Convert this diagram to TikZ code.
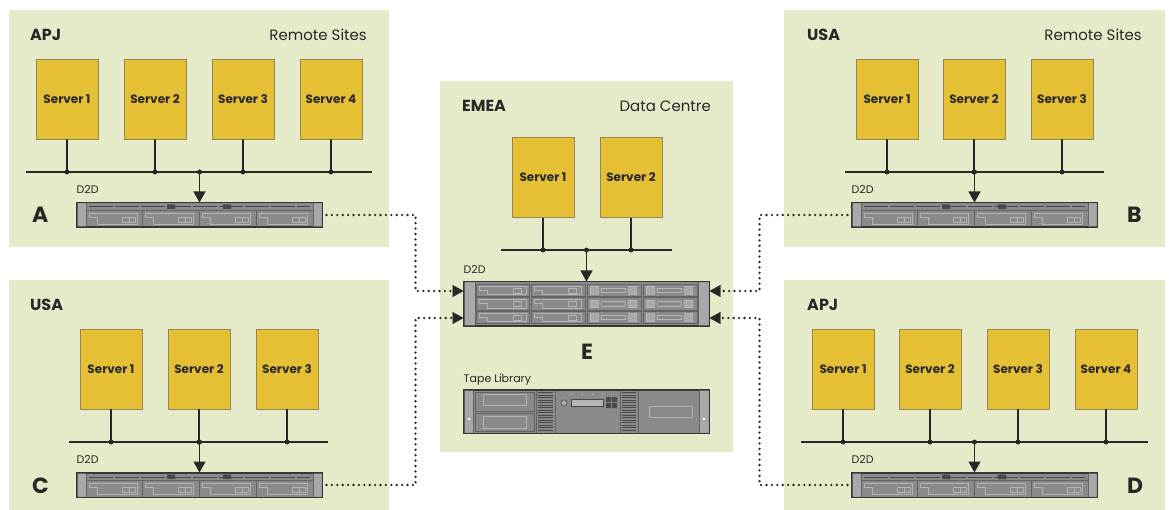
\documentclass[tikz,border=0pt]{standalone}
\usepackage{fontspec}
\setmainfont{Poppins}
\usetikzlibrary{arrows.meta,positioning}

\definecolor{sitegreen}{RGB}{229,235,200}
\definecolor{servgold}{RGB}{230,192,52}
\definecolor{servedge}{RGB}{150,135,80}
\definecolor{ink}{RGB}{40,40,40}
\definecolor{rackedge}{RGB}{55,55,55}
\definecolor{rackgray}{RGB}{138,138,138}
\definecolor{rackear}{RGB}{168,168,168}
\definecolor{rackline}{RGB}{100,100,100}
\definecolor{racklite}{RGB}{180,180,180}
\definecolor{rackdark}{RGB}{72,72,72}

\tikzset{
  site/.style={fill=sitegreen},
  server/.style={draw=servedge, line width=0.8pt, fill=servgold, minimum width=62pt,
    minimum height=80pt, inner sep=0pt, text=ink, font=\bfseries\fontsize{12}{14}\selectfont},
  sitename/.style={anchor=base west, inner sep=0pt, text=ink, font=\bfseries\fontsize{16}{18}\selectfont},
  sitekind/.style={anchor=base east, inner sep=0pt, text=ink, font=\fontsize{15}{18}\selectfont},
  letter/.style={anchor=base west, inner sep=0pt, text=ink, font=\bfseries\fontsize{22}{24}\selectfont},
  devlabel/.style={anchor=base west, inner sep=0pt, text=ink, font=\fontsize{11}{13}\selectfont},
  bus/.style={draw=ink, line width=1.3pt},
  tap/.style={circle, fill=ink, inner sep=0pt, minimum size=5pt},
  feed/.style={bus, -{Triangle[width=12pt,length=11pt]}},
  link/.style={draw=ink, line width=2.6pt, line cap=round, dash pattern=on 0pt off 5.4pt,
    -{Triangle[width=12pt,length=11pt,line width=0.1pt]}},
  rackbox/.style={draw=rackedge, line width=1pt, fill=rackgray, minimum width=245pt, inner sep=0pt},
  % 1U D2D box: ears, top strip, four drive bays
  rackone/.pic={
    \node[rackbox, minimum height=24pt] (-box) at (0,0) {};
    \begin{scope}[shift={(-122.5,-12)}, line width=0.6pt]
      \fill[rackear] (0.5,0.5) rectangle (9,23.5) (236,0.5) rectangle (244.5,23.5);
      \draw[rackline] (9,0.5) -- (9,23.5) (236,0.5) -- (236,23.5) (9,7) -- (236,7);
      \draw[rackdark, line width=1pt, dash pattern=on 24pt off 2pt] (12,4) -- (233,4);
      \fill[rackdark] (90,1.5) rectangle (98,6) (146,1.5) rectangle (154,6);
      \foreach \bx in {9,65.75,122.5,179.25} {
        \draw[rackline] (\bx,7) -- (\bx,23.5);
        \draw[racklite] (\bx+3,10.5) -- (\bx+51,10.5) -- (\bx+51,21) -- (\bx+11,21)
          -- (\bx+11,14.5) -- (\bx+3,14.5) -- cycle;
        \draw[racklite] (\bx+36,14) rectangle (\bx+43,19) (\bx+43,14) rectangle (\bx+49,19);
      }
    \end{scope}
    \draw[rackedge, line width=1pt] (-box.north west) rectangle (-box.south east);
  },
  % 3-row D2D box at the data centre
  rackthree/.pic={
    \node[rackbox, minimum height=44pt] (-box) at (0,0) {};
    \begin{scope}[shift={(-122.5,-22)}, line width=0.6pt]
      \fill[rackear] (0.5,0.5) rectangle (11,43.5) (234,0.5) rectangle (244.5,43.5);
      \draw[rackline] (11,0.5) -- (11,43.5) (234,0.5) -- (234,43.5);
      \foreach \bx in {11,66.75} \foreach \by in {2,15.5,29} {
        \draw[rackline] (\bx+1,\by) rectangle ++(53.75,12.5);
        \draw[racklite] (\bx+4,\by+2) -- (\bx+51,\by+2) -- (\bx+51,\by+10.5) -- (\bx+12,\by+10.5)
          -- (\bx+12,\by+6) -- (\bx+4,\by+6) -- cycle;
        \draw[racklite] (\bx+38,\by+4) rectangle (\bx+46,\by+9);
      }
      \foreach \bx in {122.5,178.25} \foreach \by in {2,15.5,29} {
        \draw[rackline] (\bx+1,\by) rectangle ++(53.75,12.5);
        \filldraw[draw=racklite, fill=rackear] (\bx+4,\by+2.5) rectangle ++(8,7.5)
          (\bx+42,\by+2.5) rectangle ++(8,7.5);
        \draw[racklite] (\bx+15,\by+4) rectangle (\bx+39,\by+8.5);
      }
    \end{scope}
    \draw[rackedge, line width=1pt] (-box.north west) rectangle (-box.south east);
  },
  % tape library front
  tapelib/.pic={
    \node[rackbox, minimum height=43pt] (-box) at (0,0) {};
    \begin{scope}[shift={(-122.5,-21.5)}, line width=0.6pt]
      \fill[rackear] (0.5,0.5) rectangle (9,42.5) (235,0.5) rectangle (244.5,42.5);
      \fill[white] (5,29) circle (1.3) (240,29) circle (1.3);
      \draw[rackline] (9,0.5) -- (9,42.5) (235,0.5) -- (235,42.5);
      \draw[rackline] (11,2) rectangle (70,21) (11,23) rectangle (70,41);
      \draw[racklite] (19,4) rectangle (62,15) (19,26) rectangle (62,38);
      \draw[rackline] (72,0.5) -- (72,42.5) (91,0.5) -- (91,42.5) (156,0.5) -- (156,42.5) (174,0.5) -- (174,42.5);
      \foreach \vy in {2.5,5,...,41} \draw[rackdark, line width=0.5pt] (74,\vy) -- (89,\vy) (158,\vy) -- (172,\vy);
      \filldraw[draw=rackdark, fill=rackear] (100,13) circle (3.2);
      \filldraw[draw=rackdark, fill=racklite] (107,9) rectangle (139,16);
      \foreach \dx in {108,118.5,129,139} \fill[racklite] (\dx,4) circle (0.8);
      \fill[rackdark] (142,7) rectangle ++(5,5) (148,7) rectangle ++(5,5)
        (142,13) rectangle ++(5,5) (148,13) rectangle ++(5,5);
      \draw[racklite] (185,16) rectangle (228,27);
    \end{scope}
    \draw[rackedge, line width=1pt] (-box.north west) rectangle (-box.south east);
  }
}

\begin{document}
\begin{tikzpicture}[x=1pt,y=-1pt]
  \useasboundingbox (0,0) rectangle (1169,510);

  % site panels
  \fill[site] (9,10) rectangle (389,247);     % A
  \fill[site] (784,10) rectangle (1165,247);  % B
  \fill[site] (9,280) rectangle (389,510);    % C
  \fill[site] (784,280) rectangle (1165,510); % D
  \fill[site] (440,81) rectangle (733,452);   % E

  % A: APJ remote site
  \node[sitename] at (30,41) {APJ};
  \node[sitekind] at (367,41) {Remote Sites};
  \node[server] (a1) at (67,99) {Server 1};
  \node[server] (a2) at (155,99) {Server 2};
  \node[server] (a3) at (243,99) {Server 3};
  \node[server] (a4) at (331,99) {Server 4};
  \coordinate (abusL) at (26,172);
  \coordinate (abusR) at (372,172);
  \pic (ad2d) at (199.5,215) {rackone};
  \draw[bus] (abusL) -- (abusR);
  \foreach \s in {a1,a2,a3,a4}
    \draw[bus] (\s.south) -- (\s.south |- abusL) node[tap] {};
  \node[tap] (afeed) at (ad2d-box.north |- abusL) {};
  \draw[feed] (afeed.center) -- (ad2d-box.north);
  \node[devlabel] at ([yshift=9pt]ad2d-box.north west) {D2D};
  \node[letter] at (32,223) {A};

  % B: USA remote site
  \node[sitename] at (807,41) {USA};
  \node[sitekind] at (1142,41) {Remote Sites};
  \node[server] (b1) at (887,99) {Server 1};
  \node[server] (b2) at (974,99) {Server 2};
  \node[server] (b3) at (1062,99) {Server 3};
  \coordinate (bbusL) at (845,172);
  \coordinate (bbusR) at (1104,172);
  \pic (bd2d) at (974.5,215) {rackone};
  \draw[bus] (bbusL) -- (bbusR);
  \foreach \s in {b1,b2,b3}
    \draw[bus] (\s.south) -- (\s.south |- bbusL) node[tap] {};
  \node[tap] (bfeed) at (bd2d-box.north |- bbusL) {};
  \draw[feed] (bfeed.center) -- (bd2d-box.north);
  \node[devlabel] at ([yshift=9pt]bd2d-box.north west) {D2D};
  \node[letter] at (1127,223) {B};

  % C: USA site
  \node[sitename] at (30,311) {USA};
  \node[server] (c1) at (111,369) {Server 1};
  \node[server] (c2) at (199,369) {Server 2};
  \node[server] (c3) at (287,369) {Server 3};
  \coordinate (cbusL) at (69,442);
  \coordinate (cbusR) at (328,442);
  \pic (cd2d) at (199.5,485) {rackone};
  \draw[bus] (cbusL) -- (cbusR);
  \foreach \s in {c1,c2,c3}
    \draw[bus] (\s.south) -- (\s.south |- cbusL) node[tap] {};
  \node[tap] (cfeed) at (cd2d-box.north |- cbusL) {};
  \draw[feed] (cfeed.center) -- (cd2d-box.north);
  \node[devlabel] at ([yshift=9pt]cd2d-box.north west) {D2D};
  \node[letter] at (32,493) {C};

  % D: APJ site
  \node[sitename] at (807,311) {APJ};
  \node[server] (d1) at (843,369) {Server 1};
  \node[server] (d2) at (930,369) {Server 2};
  \node[server] (d3) at (1018,369) {Server 3};
  \node[server] (d4) at (1106,369) {Server 4};
  \coordinate (dbusL) at (801,442);
  \coordinate (dbusR) at (1148,442);
  \pic (dd2d) at (974.5,485) {rackone};
  \draw[bus] (dbusL) -- (dbusR);
  \foreach \s in {d1,d2,d3,d4}
    \draw[bus] (\s.south) -- (\s.south |- dbusL) node[tap] {};
  \node[tap] (dfeed) at (dd2d-box.north |- dbusL) {};
  \draw[feed] (dfeed.center) -- (dd2d-box.north);
  \node[devlabel] at ([yshift=9pt]dd2d-box.north west) {D2D};
  \node[letter] at (1127,493) {D};

  % E: EMEA data centre
  \node[sitename] at (462,112) {EMEA};
  \node[sitekind] at (711,112) {Data Centre};
  \node[server] (e1) at (543,177.5) {Server 1};
  \node[server] (e2) at (631,177.5) {Server 2};
  \coordinate (ebusL) at (501,250);
  \coordinate (ebusR) at (672,250);
  \pic (ed2d) at (586.5,304) {rackthree};
  \draw[bus] (ebusL) -- (ebusR);
  \foreach \s in {e1,e2}
    \draw[bus] (\s.south) -- (\s.south |- ebusL) node[tap] {};
  \node[tap] (efeed) at (ed2d-box.north |- ebusL) {};
  \draw[feed] (efeed.center) -- (ed2d-box.north);
  \node[devlabel] at ([yshift=8pt]ed2d-box.north west) {D2D};
  \node[letter, anchor=base] at (587,359) {E};
  \pic (tape) at (586.5,411.5) {tapelib};
  \node[devlabel] at ([yshift=7pt]tape-box.north west) {Tape Library};

  % replication links into the data centre
  \coordinate (ein1) at ([yshift=13pt]ed2d-box.west);
  \coordinate (ein2) at ([yshift=-14pt]ed2d-box.west);
  \coordinate (eout1) at ([yshift=13pt]ed2d-box.east);
  \coordinate (eout2) at ([yshift=-14pt]ed2d-box.east);
  \draw[link] ([xshift=4pt]ad2d-box.east) -- ++(89,0) |- (ein1);
  \draw[link] ([xshift=4pt]cd2d-box.east) -- ++(89,0) |- (ein2);
  \draw[link] ([xshift=-4pt]bd2d-box.west) -- ++(-88,0) |- (eout1);
  \draw[link] ([xshift=-4pt]dd2d-box.west) -- ++(-88,0) |- (eout2);
\end{tikzpicture}
\end{document}
